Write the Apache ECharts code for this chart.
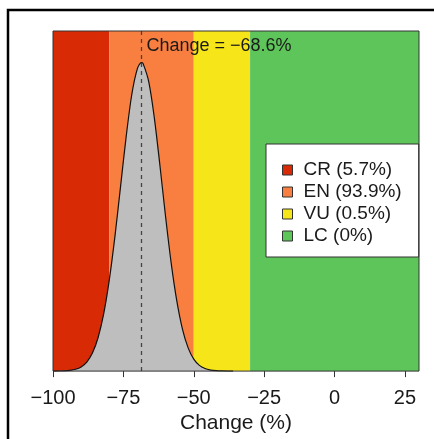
<!DOCTYPE html>
<html>
<head>
<meta charset="utf-8">
<script src="https://cdn.jsdelivr.net/npm/echarts@6/dist/echarts.min.js"></script>
<style>html,body{margin:0;padding:0;background:#fff;}#c{width:434px;height:439px;}</style>
</head>
<body>
<div id="c"></div>
<script>
const xTicks = [-100, -75, -50, -25, 0, 25];
const xMin = -100, xMax = 30;
const zoneNames = ['CR (5.7%)', 'EN (93.9%)', 'VU (0.5%)', 'LC (0%)'];
const zoneBreaks = [-100, -80, -50, -30, 30];
const zoneColors = ['#d92a06', '#f97f40', '#f6e619', '#5ec55a'];
const changeValue = -68.6;
const densityX = [-100, -98, -96, -94, -92, -90, -88, -86, -84, -82, -80, -78, -76, -74, -72, -70, -68.6, -68, -66, -64, -62, -60, -58, -56, -54, -52, -50, -48, -46, -44, -42, -40, -38, -36];
const densityY = [0.0001, 0.0003, 0.0008, 0.0021, 0.0053, 0.0123, 0.0266, 0.053, 0.098, 0.168, 0.268, 0.396, 0.543, 0.69, 0.814, 0.89, 0.907, 0.904, 0.851, 0.744, 0.603, 0.453, 0.316, 0.205, 0.123, 0.0684, 0.0353, 0.0169, 0.0075, 0.0031, 0.0012, 0.0004, 0.0001, 0];

const font = '"Liberation Sans", Arial, Helvetica, sans-serif';
const chart = echarts.init(document.getElementById('c'), null, {renderer: 'canvas'});

const zoneSeries = zoneNames.map((n, i) => ({
  name: n,
  type: 'line',
  data: [],
  itemStyle: {color: zoneColors[i]},
  z: 1,
  silent: true,
  markArea: {
    silent: true,
    z: 1,
    itemStyle: {color: zoneColors[i], opacity: 1},
    data: [[{xAxis: zoneBreaks[i], yAxis: 0}, {xAxis: zoneBreaks[i + 1], yAxis: 1}]]
  }
}));

chart.setOption({
  animation: false,
  grid: {left: 53, right: 15, top: 31, bottom: 67, containLabel: false},
  xAxis: {
    type: 'value', min: xMin, max: xMax, interval: 25,
    axisLine: {show: false},
    splitLine: {show: false},
    axisTick: {show: true, length: 6, customValues: xTicks, lineStyle: {color: '#333', width: 1}},
    axisLabel: {customValues: xTicks, margin: 17, fontSize: 20, color: '#1a1a1a', fontFamily: font,
      formatter: v => (v < 0 ? '\u2212' + Math.abs(v) : String(v))},
    name: 'Change (%)', nameLocation: 'middle', nameGap: 40,
    nameTextStyle: {fontSize: 21, color: '#1a1a1a', fontFamily: font}
  },
  yAxis: {type: 'value', min: 0, max: 1, show: false},
  legend: {
    data: zoneNames,
    orient: 'vertical',
    left: 266, top: 144,
    icon: 'rect', itemWidth: 10, itemHeight: 10, itemGap: 0,
    padding: [15, 17, 10, 16],
    backgroundColor: '#fff', borderColor: '#333', borderWidth: 1, borderRadius: 0,
    itemStyle: {borderColor: '#333', borderWidth: 1},
    textStyle: {fontSize: 19, lineHeight: 22, color: '#1a1a1a', fontFamily: font, padding: [0, 0, 0, 6]},
    selectedMode: false
  },
  series: zoneSeries.concat([{
    name: 'density',
    type: 'line',
    data: densityX.map((x, i) => [x, densityY[i]]),
    smooth: 0.3,
    showSymbol: false,
    z: 2,
    lineStyle: {color: '#111', width: 1.2},
    areaStyle: {color: '#bebebe', opacity: 1},
    markLine: {
      silent: true,
      symbol: ['none', 'none'],
      label: {show: false},
      lineStyle: {color: '#444', type: [4, 4], width: 1.3},
      data: [{xAxis: changeValue}]
    }
  }])
});

const tl = chart.convertToPixel({gridIndex: 0}, [xMin, 1]);
const br = chart.convertToPixel({gridIndex: 0}, [xMax, 0]);
const cp = chart.convertToPixel({gridIndex: 0}, [changeValue, 1]);
chart.setOption({
  graphic: [
    {type: 'rect', z: 100, silent: true,
     shape: {x: tl[0], y: tl[1], width: br[0] - tl[0], height: br[1] - tl[1]},
     style: {fill: 'none', stroke: '#333', lineWidth: 1}},
    {type: 'text', z: 100, silent: true, x: cp[0] + 5, y: tl[1] + 15,
     style: {text: 'Change = \u221268.6%', fontSize: 18, fontFamily: font, fill: '#1a1a1a', verticalAlign: 'middle', align: 'left'}},
    {type: 'rect', z: 100, silent: true,
     shape: {x: 8, y: 10, width: 460, height: 460},
     style: {fill: 'none', stroke: '#000', lineWidth: 2.5}}
  ]
});
</script>
</body>
</html>
